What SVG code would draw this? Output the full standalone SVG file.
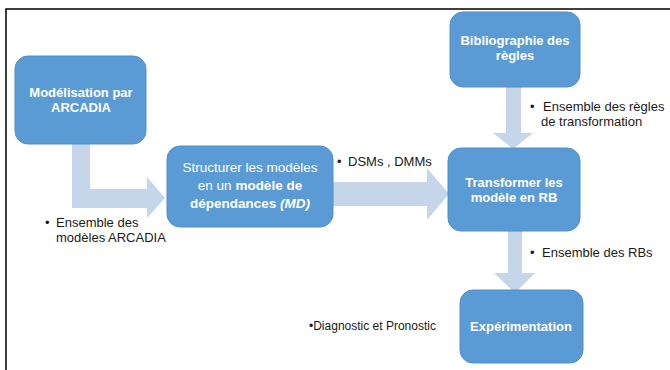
<svg xmlns="http://www.w3.org/2000/svg" width="670" height="370" viewBox="0 0 670 370">
<style>
.box{fill:#5b9bd5;stroke:#4f8fcb;stroke-width:1}
.arr{fill:#c5d5ea}
.t{font-family:"Liberation Sans",Arial,sans-serif;font-size:13px;fill:#ffffff;text-anchor:middle}
.s{font-size:13.5px}
.b{font-weight:bold}
.lbl{font-family:"Liberation Sans",Arial,sans-serif;font-size:13px;fill:#1a1a1a}
.frame{stroke:#000;stroke-width:1.5;fill:none}
</style>
<rect x="0" y="0" width="670" height="370" fill="#ffffff"/>
<path class="frame" d="M6,370 V9 H670"/>
<g id="connectors">
<path class="arr" d="M72,144 H90 V189 H147 V177 L165,198 L147,218 V208 H72 Z"/>
<path class="arr" d="M333,182 H427 V168 L449,194 L427,220 V206 H333 Z"/>
<path class="arr" d="M506,87 H521 V133 H533 L513,149 L493,133 H506 Z"/>
<path class="arr" d="M508,231 H522 V273 H535 L515,293 L494,273 H508 Z"/>
</g>
<g id="node-modelisation">
<rect class="box" x="15" y="56" width="131" height="88" rx="13"/>
<text class="t b" x="81" y="97">Modélisation par</text>
<text class="t b" x="81" y="112">ARCADIA</text>
</g>
<g id="node-structurer">
<rect class="box" x="167" y="146" width="166" height="81" rx="13"/>
<text class="t s" x="250" y="172">Structurer les modèles</text>
<text class="t s" x="250" y="190">en un <tspan class="b">modèle de</tspan></text>
<text class="t s b" x="250" y="208">dépendances <tspan font-style="italic">(MD)</tspan></text>
</g>
<g id="node-bibliographie">
<rect class="box" x="450" y="12" width="130" height="75" rx="13"/>
<text class="t b" x="515" y="45">Bibliographie des</text>
<text class="t b" x="515" y="60">règles</text>
</g>
<g id="node-transformer">
<rect class="box" x="448" y="148" width="132" height="83" rx="13"/>
<text class="t b" x="514" y="187">Transformer les</text>
<text class="t b" x="514" y="202">modèle en RB</text>
</g>
<g id="node-experimentation">
<rect class="box" x="460" y="290" width="123" height="73" rx="13"/>
<text class="t b" x="521" y="331">Expérimentation</text>
</g>
<g id="labels">
<text class="lbl" x="45" y="227">•</text>
<text class="lbl" x="56" y="227">Ensemble des</text>
<text class="lbl" x="56" y="242">modèles ARCADIA</text>
<text class="lbl" x="337" y="166">•</text>
<text class="lbl" x="348" y="166">DSMs , DMMs</text>
<text class="lbl" x="530" y="111">•</text>
<text class="lbl" x="543" y="111">Ensemble des règles</text>
<text class="lbl" x="541" y="126">de transformation</text>
<text class="lbl" x="530" y="257">•</text>
<text class="lbl" x="542" y="257">Ensemble des RBs</text>
<text class="lbl" x="309" y="330" style="font-size:12px">•Diagnostic et Pronostic</text>
</g>
</svg>
